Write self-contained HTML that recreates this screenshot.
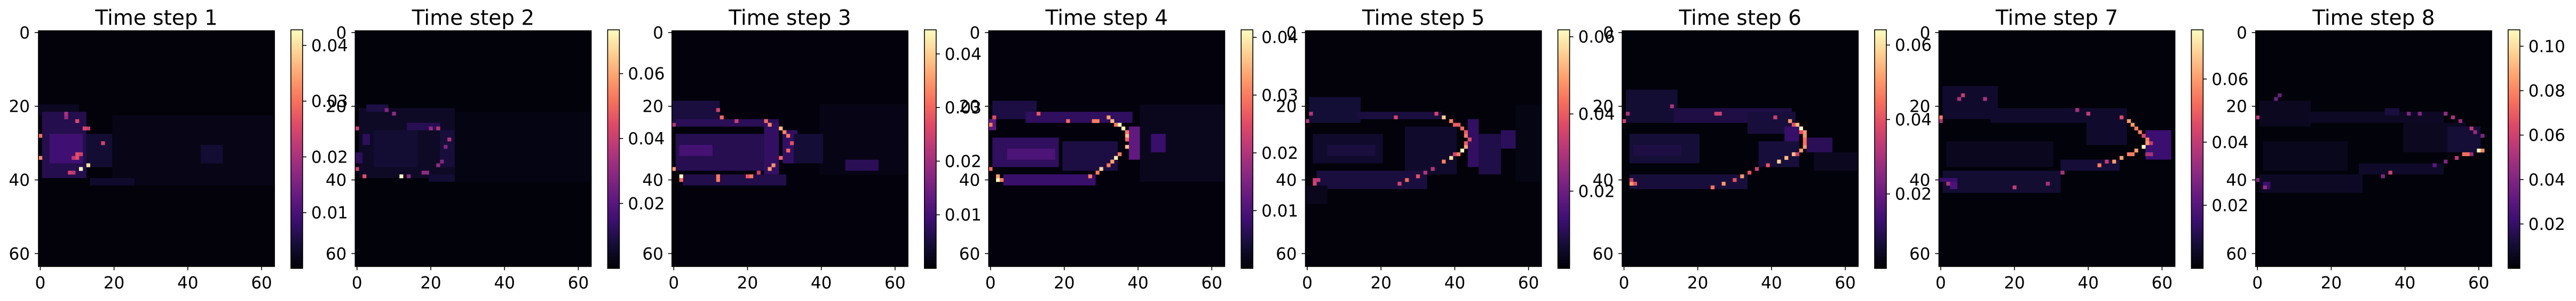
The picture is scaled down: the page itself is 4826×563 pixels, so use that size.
<!DOCTYPE html>
<html><head><meta charset="utf-8"><title>Time step heatmaps</title>
<style>
html,body{margin:0;padding:0;background:#fff;}
svg{display:block;}
text{font-family:"DejaVu Sans","Liberation Sans",sans-serif;fill:#000;}
</style></head>
<body>
<svg id="fig" xmlns="http://www.w3.org/2000/svg" width="4826" height="563" viewBox="0 0 4826 563">
<defs id="defs"></defs>
</svg>
<script>
// ---- data ----
const titles=["Time step 1","Time step 2","Time step 3","Time step 4","Time step 5","Time step 6","Time step 7","Time step 8"];
const vmaxes=[0.0428,0.0735,0.0445,0.0413,0.0618,0.0641,0.0756,0.1074];
const bgValues=[0.0006,0.0009,0.0007,0.0007,0.0008,0.0008,0.0009,0.0013];
const axisTicks=[0,20,40,60];
const cbarTicks1=[0.01,0.02,0.03,0.04];
const cbarTicks2=[0.02,0.04,0.06];
const cbarTicks3=[0.01,0.02,0.03,0.04];
const cbarTicks4=[0.01,0.02,0.03,0.04];
const cbarTicks5=[0.02,0.04,0.06];
const cbarTicks6=[0.02,0.04,0.06];
const cbarTicks7=[0.02,0.04,0.06];
const cbarTicks8=[0.02,0.04,0.06,0.08,0.10];
const cbarLabels1=["0.01","0.02","0.03","0.04"];
const cbarLabels2=["0.02","0.04","0.06"];
const cbarLabels3=["0.01","0.02","0.03","0.04"];
const cbarLabels4=["0.01","0.02","0.03","0.04"];
const cbarLabels5=["0.02","0.04","0.06"];
const cbarLabels6=["0.02","0.04","0.06"];
const cbarLabels7=["0.02","0.04","0.06"];
const cbarLabels8=["0.02","0.04","0.06","0.08","0.10"];
// patches: [col0,row0,col1,row1,value]
const patches1=[[0,20,10,22,0.0025],[20,23,63,41,0.0015],[1,22,12,39,0.006],[3,28,11,35,0.009],[13,28,19,36,0.004],[44,31,49,35,0.004],[14,40,25,41,0.0035]];
const patches2=[[25,22,63,40,0.002],[1,21,26,39,0.005],[5,27,16,36,0.007],[14,25,22,26,0.011],[2,28,3,30,0.012],[0,33,1,35,0.012],[3,20,8,21,0.009],[23,27,26,36,0.008],[20,39,26,40,0.007]];
const patches3=[[40,20,63,38,0.0015],[0,19,12,24,0.005],[1,24,28,25,0.007],[1,28,24,37,0.0065],[2,31,10,33,0.01],[25,25,28,38,0.008],[30,27,33,35,0.008],[33,28,40,35,0.0045],[47,35,55,37,0.007],[3,39,30,41,0.006]];
const patches4=[[41,20,63,40,0.002],[1,19,12,23,0.005],[10,22,38,24,0.007],[1,29,18,36,0.007],[5,32,17,34,0.01],[20,30,34,37,0.005],[4,39,28,41,0.008],[38,26,40,34,0.012],[44,28,47,32,0.008],[0,24,1,26,0.012]];
const patches5=[[57,20,63,40,0.002],[1,18,14,24,0.006],[14,22,36,23,0.007],[2,28,20,35,0.005],[6,31,18,33,0.007],[27,26,40,38,0.005],[44,24,46,36,0.011],[47,28,52,38,0.008],[53,27,56,31,0.01],[3,38,32,42,0.007],[0,42,5,46,0.003]];
const patches6=[[52,33,63,37,0.0035],[1,16,14,24,0.006],[14,21,45,24,0.008],[2,28,20,35,0.0065],[3,31,15,33,0.008],[34,22,46,27,0.007],[44,26,47,33,0.012],[37,30,47,36,0.007],[50,29,56,32,0.01],[2,39,33,42,0.007]];
const patches7=[[1,15,15,23,0.006],[14,21,50,24,0.006],[2,30,30,36,0.004],[40,23,50,30,0.006],[56,27,62,34,0.015],[33,35,48,37,0.008],[1,38,32,43,0.007],[3,40,4,42,0.018],[0,40,4,40,0.015]];
const patches8=[[1,19,14,25,0.006],[14,22,50,24,0.007],[2,30,24,37,0.005],[35,21,38,22,0.012],[40,25,56,32,0.006],[52,26,60,32,0.011],[28,36,50,38,0.008],[1,39,28,43,0.007],[2,41,3,42,0.021]];
// bright cells: [col,row,value]
const cells1=[[11,37,0.0428],[13,36,0.040],[0,34,0.032],[0,28,0.030],[10,24,0.025],[12,26,0.025],[13,26,0.023],[17,30,0.024],[10,33,0.026],[11,33,0.024],[10,34,0.026],[8,38,0.024],[9,38,0.022],[7,22,0.02],[7,23,0.018],[9,34,0.022]];
const cells2=[[12,39,0.0735],[2,39,0.045],[0,26,0.04],[0,37,0.04],[22,26,0.035],[20,26,0.03],[25,29,0.035],[10,22,0.03],[8,21,0.028],[19,38,0.03],[18,38,0.03],[14,39,0.03],[22,36,0.03],[23,35,0.028],[24,31,0.028]];
const cells3=[[2,39,0.0445],[0,37,0.035],[29,26,0.038],[26,37,0.035],[12,39,0.032],[12,40,0.032],[21,39,0.032],[20,39,0.028],[13,23,0.03],[25,24,0.03],[26,25,0.033],[30,27,0.033],[31,28,0.032],[32,30,0.027],[31,32,0.03],[29,34,0.03],[27,36,0.034],[12,21,0.025],[17,24,0.024],[23,38,0.025],[2,40,0.03],[0,25,0.022]];
const cells4=[[35,25,0.041],[36,26,0.04],[37,28,0.036],[37,31,0.036],[34,34,0.04],[30,37,0.038],[2,40,0.041],[32,23,0.033],[28,24,0.03],[29,24,0.03],[33,24,0.035],[34,25,0.03],[37,27,0.03],[37,29,0.028],[35,33,0.03],[33,35,0.033],[32,36,0.03],[29,38,0.03],[27,39,0.03],[2,39,0.033],[3,40,0.03],[0,25,0.03],[0,37,0.028],[21,24,0.028],[13,22,0.026],[1,23,0.025]];
const cells5=[[37,23,0.055],[42,32,0.0618],[39,34,0.058],[43,31,0.05],[39,24,0.045],[40,25,0.04],[41,25,0.04],[42,26,0.042],[43,27,0.04],[43,28,0.045],[44,29,0.038],[43,30,0.04],[41,33,0.045],[37,35,0.045],[27,40,0.042],[30,39,0.038],[35,22,0.035],[24,23,0.035],[25,41,0.035],[2,41,0.035],[2,40,0.033],[3,40,0.032],[1,22,0.03],[0,24,0.03],[34,37,0.03],[32,38,0.03],[40,33,0.035]];
const cells6=[[48,26,0.0641],[42,35,0.058],[47,25,0.055],[45,24,0.05],[49,27,0.05],[49,28,0.05],[49,31,0.05],[48,32,0.05],[46,33,0.055],[44,34,0.055],[32,39,0.05],[27,41,0.05],[2,41,0.05],[24,42,0.045],[49,29,0.045],[49,30,0.045],[46,25,0.04],[48,27,0.04],[39,36,0.04],[34,38,0.04],[30,40,0.04],[25,22,0.035],[26,22,0.035],[41,23,0.035],[36,37,0.035],[3,41,0.04],[2,40,0.035],[0,24,0.035],[1,22,0.03],[13,20,0.03],[47,33,0.035]];
const cells7=[[55,31,0.0756],[56,30,0.06],[51,24,0.06],[52,25,0.06],[53,26,0.055],[54,27,0.055],[56,29,0.055],[53,32,0.06],[51,33,0.055],[52,33,0.055],[49,34,0.06],[47,35,0.06],[43,36,0.055],[0,23,0.055],[49,23,0.045],[55,28,0.045],[57,30,0.04],[40,22,0.04],[6,17,0.04],[5,18,0.035],[12,18,0.035],[0,24,0.035],[33,38,0.035],[29,41,0.035],[20,42,0.04],[2,41,0.035],[45,35,0.04],[56,33,0.035],[57,33,0.035],[37,21,0.035]];
const cells8=[[60,32,0.1074],[61,32,0.08],[56,33,0.075],[57,33,0.075],[36,38,0.06],[54,34,0.055],[58,26,0.055],[53,23,0.05],[0,23,0.055],[55,24,0.045],[59,27,0.045],[61,28,0.04],[51,22,0.045],[44,22,0.04],[41,22,0.04],[58,33,0.045],[51,35,0.04],[0,40,0.04],[2,42,0.045],[34,39,0.04],[5,18,0.035],[6,17,0.035],[48,36,0.03]];

const allPatches=[patches1,patches2,patches3,patches4,patches5,patches6,patches7,patches8];
const allCells=[cells1,cells2,cells3,cells4,cells5,cells6,cells7,cells8];
const allCbarTicks=[cbarTicks1,cbarTicks2,cbarTicks3,cbarTicks4,cbarTicks5,cbarTicks6,cbarTicks7,cbarTicks8];
const allCbarLabels=[cbarLabels1,cbarLabels2,cbarLabels3,cbarLabels4,cbarLabels5,cbarLabels6,cbarLabels7,cbarLabels8];

// ---- layout / style ----
const NS="http://www.w3.org/2000/svg";
const svg=document.getElementById('fig');
const defs=document.getElementById('defs');
const magma=[[0,0,0,4],[0.1,20,14,54],[0.2,59,15,112],[0.3,100,26,128],[0.4,140,41,129],[0.5,183,55,121],[0.6,222,73,104],[0.7,247,112,92],[0.8,254,159,109],[0.9,254,207,146],[1,252,253,191]];
function cmap(t){
  t=Math.max(0,Math.min(1,t));
  for(let i=1;i<magma.length;i++){
    if(t<=magma[i][0]){
      const a=magma[i-1],b=magma[i],f=(t-a[0])/(b[0]-a[0]);
      return `rgb(${Math.round(a[1]+(b[1]-a[1])*f)},${Math.round(a[2]+(b[2]-a[2])*f)},${Math.round(a[3]+(b[3]-a[3])*f)})`;
    }
  }
  return 'rgb(252,253,191)';
}
function el(tag,attrs,parent){const e=document.createElementNS(NS,tag);for(const k in attrs)e.setAttribute(k,attrs[k]);(parent||svg).appendChild(e);return e;}

const grad=el('linearGradient',{id:'magmaGrad',x1:0,y1:1,x2:0,y2:0},defs);
magma.forEach(s=>{el('stop',{offset:s[0],'stop-color':cmap(s[0])},grad);});

const PANEL_X0=72, PANEL_DX=593.4, IMG_TOP=57.5, CELL_W=6.91, CELL_H=6.89, N=64;
const CB_DX=473, CB_W=22, CB_TOP=55.7, CB_BOT=502;
const FS=31;

for(let p=0;p<8;p++){
  const left=PANEL_X0+PANEL_DX*p;
  const imgW=CELL_W*N, imgH=CELL_H*N, bottom=IMG_TOP+imgH;
  const xScale=v=>left+(v+0.5)*CELL_W;
  const yScale=v=>IMG_TOP+(v+0.5)*CELL_H;
  const vmax=vmaxes[p];
  const g=el('g',{});
  
  

  const bg=el('rect',{x:left,y:IMG_TOP,width:imgW,height:imgH,fill:cmap(bgValues[p]/vmax)},g);
  
  

  allPatches[p].forEach(pt=>{
    const r=el('rect',{x:xScale(pt[0]-0.5),y:yScale(pt[1]-0.5),width:(pt[2]-pt[0]+1)*CELL_W,height:(pt[3]-pt[1]+1)*CELL_H,fill:cmap(pt[4]/vmax)},g);
    
    
  });
  allCells[p].forEach(c=>{
    const r=el('rect',{x:xScale(c[0]-0.5),y:yScale(c[1]-0.5),width:CELL_W+0.3,height:CELL_H+0.3,fill:cmap(c[2]/vmax)},g);
    
    
  });

  const fr=el('rect',{x:left,y:IMG_TOP,width:imgW,height:imgH,fill:'none',stroke:'#000','stroke-width':1.6},g);
  
  

  axisTicks.forEach(t=>{
    const x=xScale(t);
    const tk=el('line',{x1:x,y1:bottom,x2:x,y2:bottom+7,stroke:'#000','stroke-width':1.6},g);
    
    
    const tl=el('text',{x:x,y:bottom+41,'text-anchor':'middle','font-size':FS},g);
    tl.textContent=String(t);
    
    
    const y=yScale(t);
    const ty=el('line',{x1:left-7,y1:y,x2:left,y2:y,stroke:'#000','stroke-width':1.6},g);
    
    
    const yl=el('text',{x:left-16,y:y+11,'text-anchor':'end','font-size':FS},g);
    yl.textContent=String(t);
    
    
  });

  const ti=el('text',{x:left+imgW/2,y:46.5,'text-anchor':'middle','font-size':39},g);
  ti.textContent=titles[p];
  
  

  const cbx=left+CB_DX;
  const cbScale=v=>CB_BOT-(v/vmax)*(CB_BOT-CB_TOP);
  const cb=el('rect',{x:cbx,y:CB_TOP,width:CB_W,height:CB_BOT-CB_TOP,fill:'url(#magmaGrad)',stroke:'#000','stroke-width':1.6},g);
  
  
  allCbarTicks[p].forEach((v,i)=>{
    const y=cbScale(v);
    const tk=el('line',{x1:cbx+CB_W,y1:y,x2:cbx+CB_W+7,y2:y,stroke:'#000','stroke-width':1.6},g);
    
    
    const tl=el('text',{x:cbx+CB_W+16,y:y+11,'text-anchor':'start','font-size':FS},g);
    tl.textContent=allCbarLabels[p][i];
    
    
  });
}
</script>
</body></html>
